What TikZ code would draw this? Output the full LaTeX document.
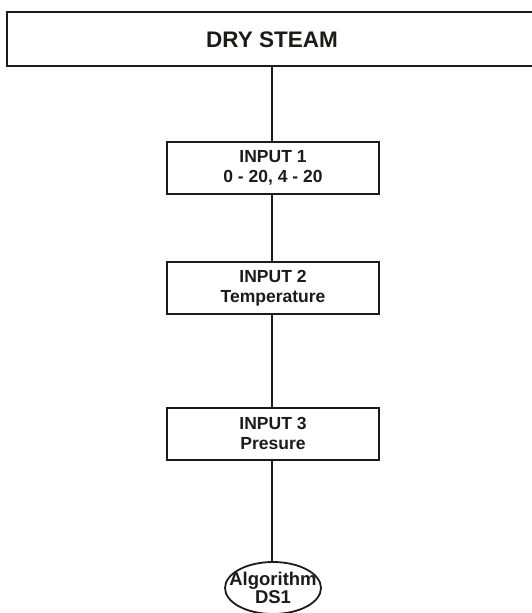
\documentclass[tikz,border=0pt]{standalone}
\usepackage{fontspec}
\setmainfont{Liberation Sans}
\usetikzlibrary{shapes.geometric}
\definecolor{ink}{HTML}{1E1A1A}
\begin{document}
\begin{tikzpicture}[x=1pt,y=1pt,
  inbox/.style={draw=ink, line width=2pt, minimum width=212pt, minimum height=52pt,
    inner sep=0pt, align=center, font=\fontsize{17.5}{20}\selectfont\bfseries, text=ink},
  conn/.style={draw=ink, line width=2.2pt}]
\useasboundingbox (0,0) rectangle (531,-613);
\fill[white] (0,0) rectangle (531,-613);
\node[draw=ink, line width=2pt, minimum width=540pt, minimum height=54pt, inner sep=0pt] (top) at (277,-39) {};
\node[font=\fontsize{22.5}{25}\selectfont\bfseries, text=ink] (toplabel) at (272,-39.5) {DRY STEAM};
\node[inbox] (in1) at (273,-168) {INPUT 1\\0 - 20, 4 - 20};
\node[inbox] (in2) at (273,-288) {INPUT 2\\Temperature};
\node[inbox] (in3) at (273,-433.5) {INPUT 3\\Presure};
\node[draw=ink, line width=1.8pt, ellipse, minimum width=96pt, minimum height=52pt, inner sep=0pt,
  label={[font=\fontsize{18.5}{18}\selectfont\bfseries, text=ink, align=center]center:Algorithm\\DS1}] (alg) at (273,-588) {};
\draw[conn] (272,-66) -- (in1.north -| 272,0);
\draw[conn] (in1.south -| 272,0) -- (in2.north -| 272,0);
\draw[conn] (in2.south -| 272,0) -- (in3.north -| 272,0);
\draw[conn] (in3.south -| 272,0) -- (alg.north -| 272,0);
\end{tikzpicture}
\end{document}
